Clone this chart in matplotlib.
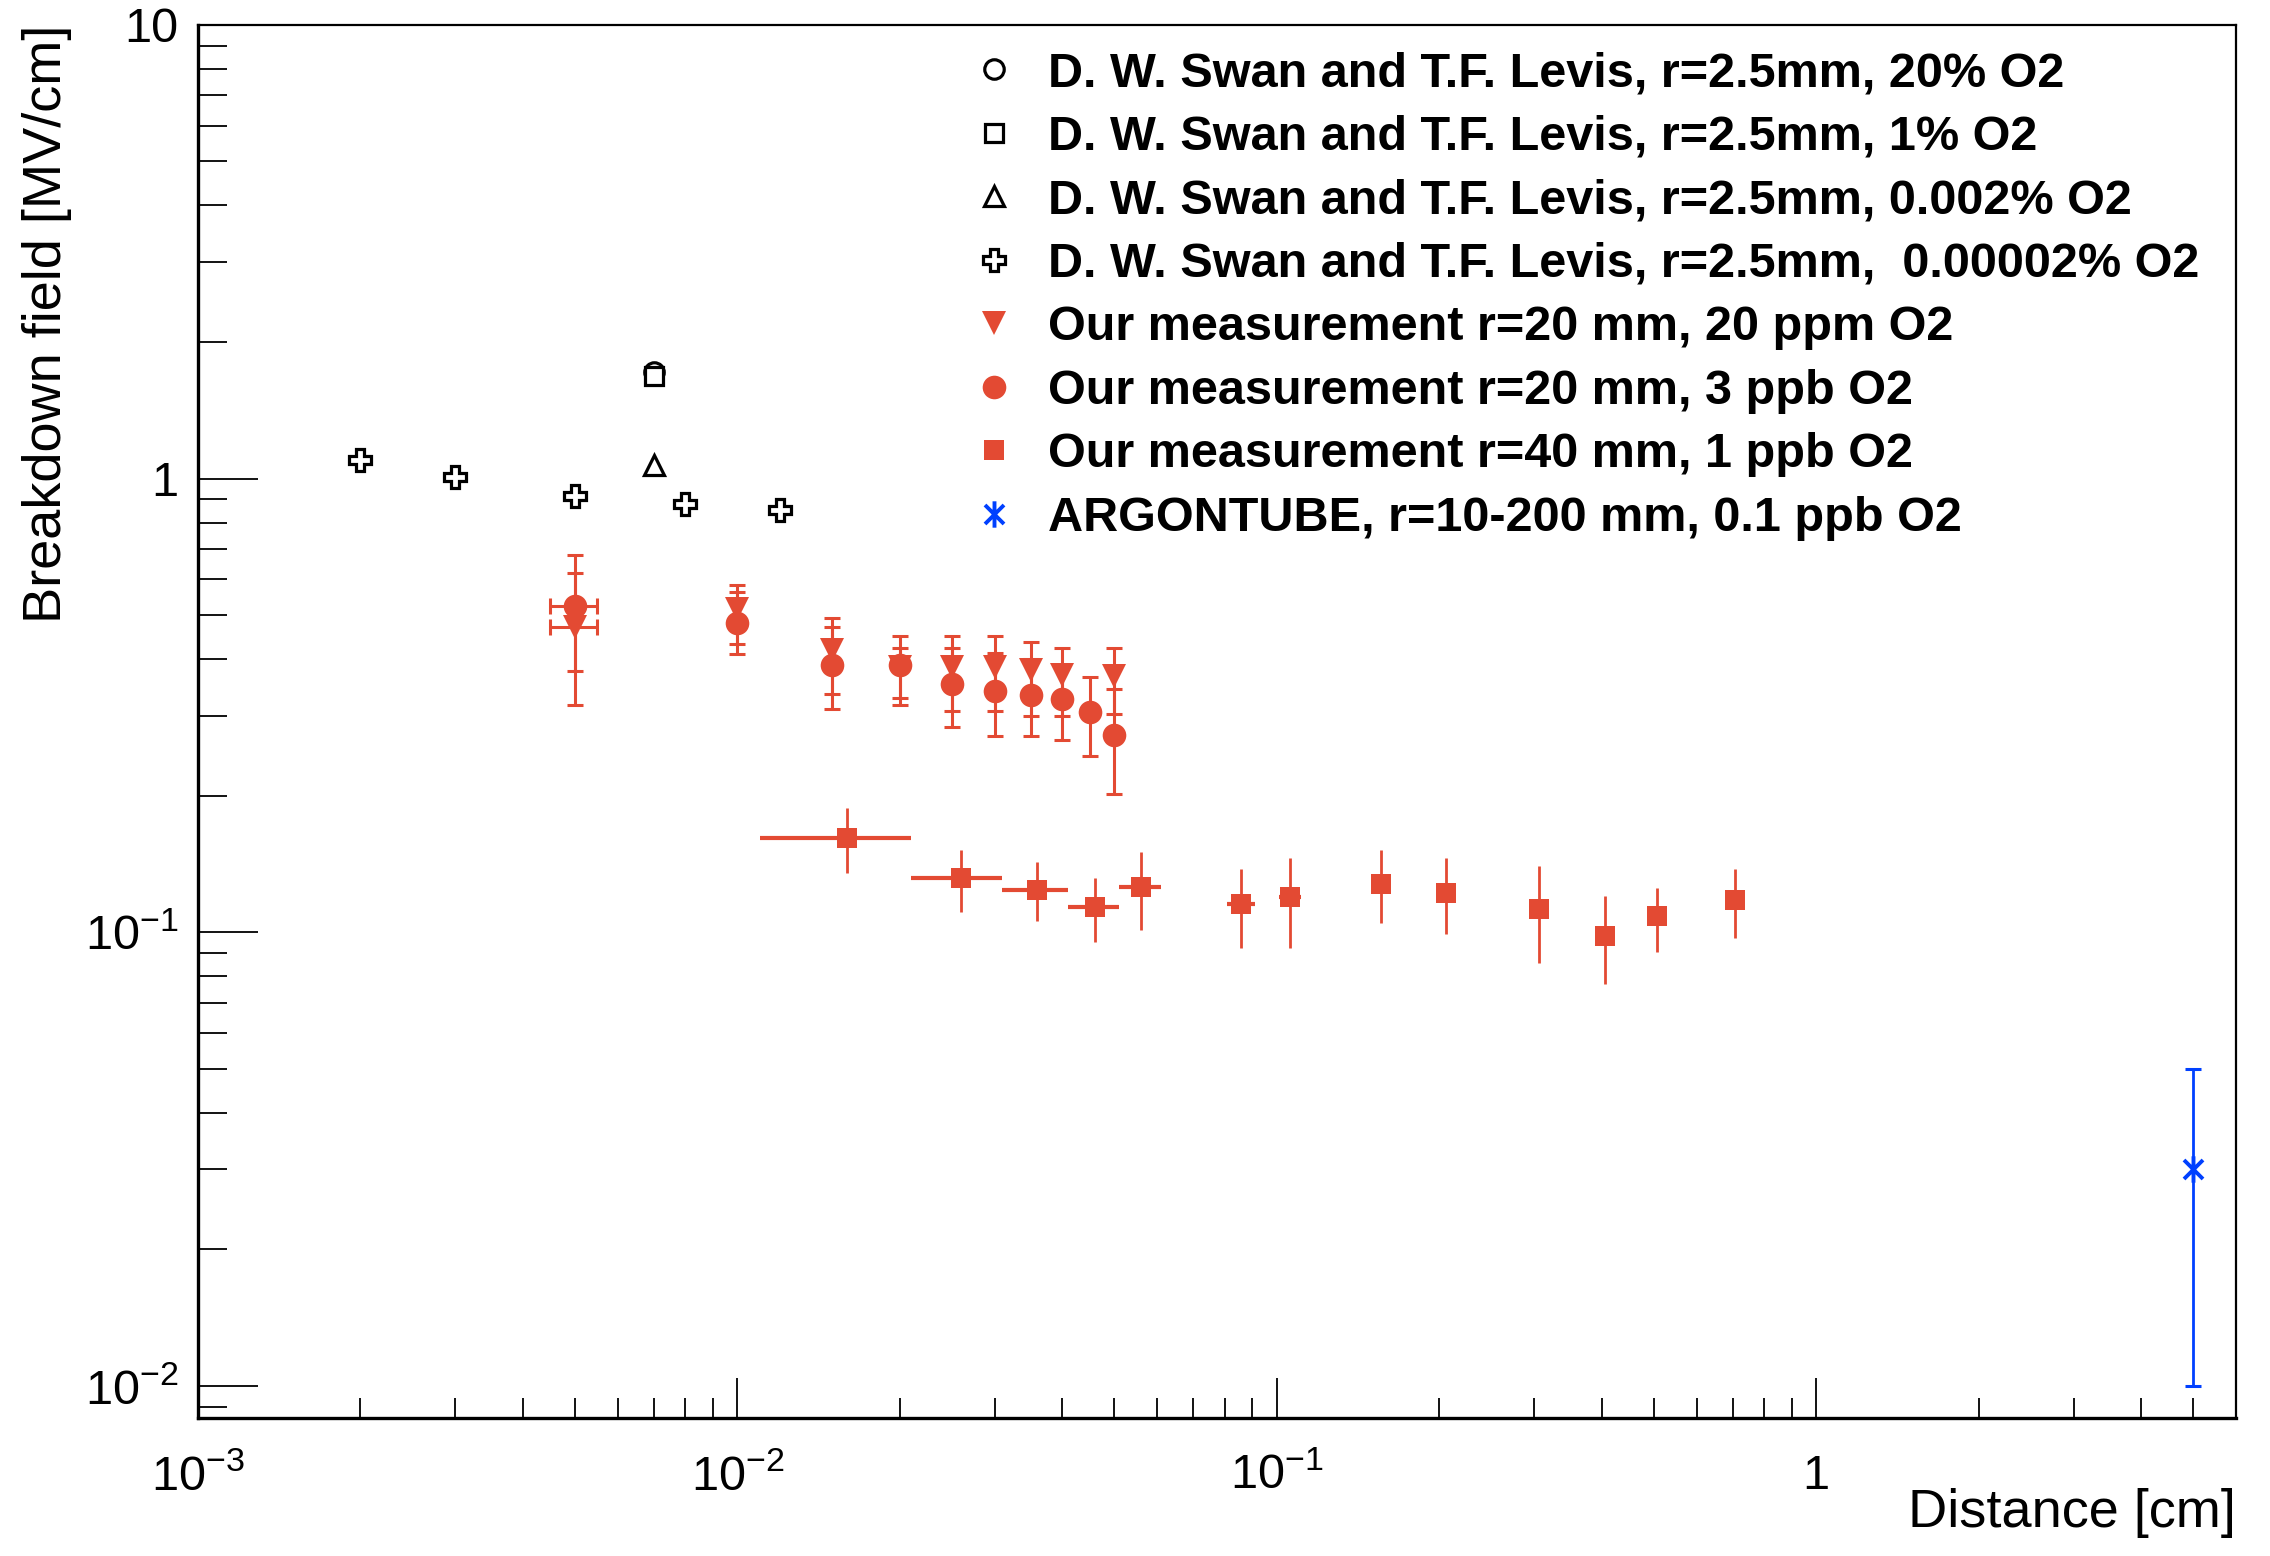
"""Breakdown field in liquid argon vs electrode distance (log-log)."""

import math

import matplotlib
matplotlib.use("Agg")

import matplotlib.pyplot as plt
import matplotlib.ticker as mticker
from matplotlib.lines import Line2D
from matplotlib.path import Path

plt.rcParams["font.family"] = ["Liberation Sans", "DejaVu Sans"]
plt.rcParams["mathtext.fontset"] = "custom"
plt.rcParams["mathtext.rm"] = "Liberation Sans"
plt.rcParams["mathtext.it"] = "Liberation Sans:italic"
plt.rcParams["mathtext.bf"] = "Liberation Sans:bold"

RED = "#E34A33"
BLUE = "#0040FF"

# D. W. Swan and T.F. Levis, r = 2.5 mm
swan_20pct_x = [0.007]
swan_20pct_y = [1.72]
swan_1pct_x = [0.007]
swan_1pct_y = [1.68]
swan_0002pct_x = [0.007]
swan_0002pct_y = [1.07]
swan_000002pct_x = [0.002, 0.003, 0.005, 0.008, 0.012]
swan_000002pct_y = [1.10, 1.01, 0.915, 0.88, 0.851]

# our measurement r=20 mm, 20 ppm O2
ppm20_x = [0.005, 0.01, 0.015, 0.02, 0.025, 0.03, 0.035, 0.04, 0.05]
ppm20_y = [0.47, 0.515, 0.42, 0.385, 0.385, 0.385, 0.379, 0.369, 0.368]
ppm20_lo = [0.317, 0.431, 0.31, 0.317, 0.308, 0.308, 0.30, 0.299, 0.303]
ppm20_hi = [0.619, 0.583, 0.492, 0.449, 0.449, 0.449, 0.436, 0.423, 0.424]
ppm20_xerr = [0.0005, 0, 0, 0, 0, 0, 0, 0, 0]

# our measurement r=20 mm, 3 ppb O2
ppb3_x = [0.005, 0.01, 0.015, 0.02, 0.025, 0.03, 0.035, 0.04, 0.045, 0.05]
ppb3_y = [0.525, 0.48, 0.388, 0.389, 0.352, 0.341, 0.333, 0.326, 0.306, 0.272]
ppb3_lo = [0.377, 0.41, 0.335, 0.329, 0.283, 0.271, 0.271, 0.265, 0.245, 0.202]
ppb3_hi = [0.679, 0.561, 0.47, 0.424, 0.424, 0.412, 0.40, 0.387, 0.366, 0.344]
ppb3_xerr = [0.0005, 0, 0, 0, 0, 0, 0, 0, 0, 0]

# our measurement r=40 mm, 1 ppb O2
ppb1_x = [0.016, 0.026, 0.036, 0.046, 0.056, 0.086, 0.106, 0.156, 0.206,
          0.306, 0.406, 0.506, 0.706]
ppb1_y = [0.1616, 0.1316, 0.1242, 0.1134, 0.1257, 0.1153, 0.1195, 0.1279,
          0.122, 0.1128, 0.0983, 0.1085, 0.118]
ppb1_lo = [0.135, 0.111, 0.106, 0.0952, 0.101, 0.0923, 0.0923, 0.1047,
           0.099, 0.0857, 0.0769, 0.0903, 0.0972]
ppb1_hi = [0.188, 0.1515, 0.143, 0.1314, 0.150, 0.138, 0.1455, 0.1515,
           0.1455, 0.1398, 0.12, 0.1255, 0.138]
ppb1_xerr = [0.005] * 13

# ARGONTUBE, r=10-200 mm, 0.1 ppb O2
argontube_x = [5.0]
argontube_y = [0.03]
argontube_lo = [0.01]
argontube_hi = [0.05]

labels = [
    "D. W. Swan and T.F. Levis, r=2.5mm, 20% O2",
    "D. W. Swan and T.F. Levis, r=2.5mm, 1% O2",
    "D. W. Swan and T.F. Levis, r=2.5mm, 0.002% O2",
    "D. W. Swan and T.F. Levis, r=2.5mm,  0.00002% O2",
    "Our measurement r=20 mm, 20 ppm O2",
    "Our measurement r=20 mm, 3 ppb O2",
    "Our measurement r=40 mm, 1 ppb O2",
    "ARGONTUBE, r=10-200 mm, 0.1 ppb O2",
]

# asterisk marker: vertical bar plus an X
star = Path([(0, -1), (0, 1), (-0.72, -0.72), (0.72, 0.72), (-0.72, 0.72), (0.72, -0.72)],
            [Path.MOVETO, Path.LINETO, Path.MOVETO, Path.LINETO, Path.MOVETO, Path.LINETO])


def yerr(y, lo, hi):
    return [[a - b for a, b in zip(y, lo)], [c - a for a, c in zip(y, hi)]]


fig = plt.figure(figsize=(22.7, 15.56), dpi=100)
ax = fig.add_axes([0.0872, 0.0887, 0.8978, 0.8953])
ax.set_xscale("log")
ax.set_yscale("log")
ax.set_xlim(1e-3, 6.0)
ax.set_ylim(0.0085, 10)

open_style = dict(linestyle="none", markerfacecolor="white", markeredgecolor="black",
                  markeredgewidth=2.3, zorder=4)
ax.plot(swan_20pct_x, swan_20pct_y, marker="o", markersize=14, **open_style)
ax.plot(swan_1pct_x, swan_1pct_y, marker="s", markersize=13, **open_style)
ax.plot(swan_0002pct_x, swan_0002pct_y, marker="^", markersize=15, **open_style)
ax.plot(swan_000002pct_x, swan_000002pct_y, marker="P", markersize=16, **open_style)

err_style = dict(fmt="none", ecolor=RED, elinewidth=2.2, capsize=6, capthick=2.2, zorder=2)
ax.errorbar(ppm20_x, ppm20_y, xerr=ppm20_xerr, yerr=yerr(ppm20_y, ppm20_lo, ppm20_hi), **err_style)
ax.errorbar(ppb3_x, ppb3_y, xerr=ppb3_xerr, yerr=yerr(ppb3_y, ppb3_lo, ppb3_hi), **err_style)
ax.plot(ppm20_x, ppm20_y, linestyle="none", marker="v", markersize=17,
        color=RED, markeredgewidth=0, zorder=3)
ax.plot(ppb3_x, ppb3_y, linestyle="none", marker="o", markersize=17,
        color=RED, markeredgewidth=0, zorder=3)

ax.errorbar(ppb1_x, ppb1_y, xerr=ppb1_xerr, fmt="none", ecolor=RED, elinewidth=3.0, zorder=2)
ax.errorbar(ppb1_x, ppb1_y, yerr=yerr(ppb1_y, ppb1_lo, ppb1_hi), fmt="none",
            ecolor=RED, elinewidth=2.0, zorder=2)
ax.plot(ppb1_x, ppb1_y, linestyle="none", marker="s", markersize=14,
        color=RED, markeredgewidth=0, zorder=3)

ax.errorbar(argontube_x, argontube_y, yerr=yerr(argontube_y, argontube_lo, argontube_hi),
            fmt="none", ecolor=BLUE, elinewidth=2.0, capsize=6, capthick=2.2, zorder=2)
ax.plot(argontube_x, argontube_y, linestyle="none", marker=star, markersize=19,
        markeredgecolor=BLUE, markeredgewidth=2.8, zorder=3)

# ── axes cosmetics (ROOT look) ───────────────────────────────────────
for side in ("left", "bottom"):
    ax.spines[side].set_linewidth(2.4)
for side in ("top", "right"):
    ax.spines[side].set_linewidth(1.6)

ax.tick_params(axis="both", which="both", direction="in", top=False, right=False,
               colors="black", labelsize=35)
ax.tick_params(axis="x", which="major", length=29, width=1.3, pad=26)
ax.tick_params(axis="x", which="minor", length=14.5, width=1.3)
ax.tick_params(axis="y", which="major", length=43, width=1.3, pad=14)
ax.tick_params(axis="y", which="minor", length=21, width=1.3)

ax.xaxis.set_major_locator(mticker.LogLocator(base=10, numticks=10))
ax.xaxis.set_minor_locator(mticker.LogLocator(base=10, subs=range(2, 10), numticks=10))
ax.yaxis.set_major_locator(mticker.LogLocator(base=10, numticks=10))
ax.yaxis.set_minor_locator(mticker.LogLocator(base=10, subs=range(2, 10), numticks=10))


def root_log_fmt(v, _):
    if v >= 10:
        return f"{v:.0f}"
    if v >= 1:
        return "1"
    exp = int(round(math.log10(v)))
    return rf"$10^{{{exp}}}$"


ax.xaxis.set_major_formatter(mticker.FuncFormatter(root_log_fmt))
ax.yaxis.set_major_formatter(mticker.FuncFormatter(root_log_fmt))
ax.xaxis.set_minor_formatter(mticker.NullFormatter())
ax.yaxis.set_minor_formatter(mticker.NullFormatter())

ax.set_xlabel("Distance [cm]", fontsize=39, loc="right")
ax.xaxis.set_label_coords(1.0, -0.050)
ax.set_ylabel("Breakdown field [MV/cm]", fontsize=39, loc="top")
ax.yaxis.set_label_coords(-0.062, 1.0)

# legend (markers only, as in the ROOT "P" option)
handles = [
    Line2D([], [], marker="o", markersize=14, **open_style),
    Line2D([], [], marker="s", markersize=13, **open_style),
    Line2D([], [], marker="^", markersize=15, **open_style),
    Line2D([], [], marker="P", markersize=16, **open_style),
    Line2D([], [], linestyle="none", marker="v", markersize=17, color=RED, markeredgewidth=0),
    Line2D([], [], linestyle="none", marker="o", markersize=17, color=RED, markeredgewidth=0),
    Line2D([], [], linestyle="none", marker="s", markersize=14, color=RED, markeredgewidth=0),
    Line2D([], [], linestyle="none", marker=star, markersize=19,
           markeredgecolor=BLUE, markeredgewidth=2.8),
]
leg = ax.legend(handles, labels, loc="upper left", bbox_to_anchor=(0.3785, 0.981),
                frameon=False, fontsize=35, handlelength=1.0, handletextpad=0.61,
                labelspacing=0.38, borderpad=0, borderaxespad=0)
for t in leg.get_texts():
    t.set_fontweight("bold")

fig.savefig("out.png", dpi=100, facecolor="white")
